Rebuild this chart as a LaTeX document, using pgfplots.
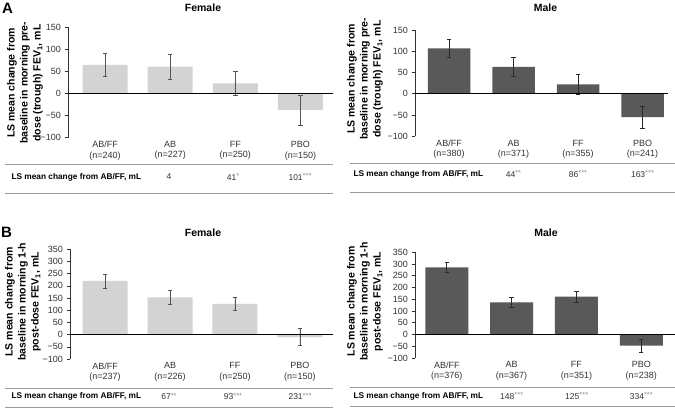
\documentclass[border=0pt]{standalone}
\usepackage{fontspec}
\setmainfont{Liberation Sans}
\usepackage{pgfplots}
\pgfplotsset{compat=1.18}
\definecolor{fbar}{HTML}{D3D3D3}
\definecolor{mbar}{HTML}{595959}
\definecolor{ferr}{HTML}{555555}
\definecolor{merr}{HTML}{2A2A2A}
\definecolor{txt}{HTML}{333333}
\definecolor{rulec}{HTML}{9A9A9A}
\definecolor{ast}{HTML}{8C8C8C}
\newcommand\fs[2]{\fontsize{#1}{#2}\selectfont}
\newcommand\st[1]{\raisebox{1.2pt}{\textcolor{ast}{\fs{7.5}{7.5}#1}}}
\newcommand\zeroline{\draw[black, line width=0.7pt] ({rel axis cs:0,0}|-{axis cs:0,0}) -- ({rel axis cs:1,0}|-{axis cs:0,0});}
\pgfplotsset{
  panel/.style={
    scale only axis,
    anchor=south west,
    clip=false,
    axis y line*=left,
    axis x line*=bottom,
    x axis line style={draw=none},
    xtick={0,1,2,3},
    xtick style={draw=none},
    ytick align=outside,
    ytick style={color=txt, line width=0.6pt},
    major tick length=3.5pt,
    y axis line style={color=txt, line width=0.6pt},
    tick label style={font=\fs{9}{10.5}, color=txt},
    xticklabel style={align=center},
  },
  fbarplot/.style={ybar, bar shift=0pt, fill=fbar, draw=none,
    error bars/.cd, y dir=both, y explicit,
    error bar style={color=ferr, line width=0.6pt},
    error mark options={rotate=90, mark size=2.2pt, color=ferr, line width=0.6pt}},
  mbarplot/.style={ybar, bar shift=0pt, fill=mbar, draw=none,
    error bars/.cd, y dir=both, y explicit,
    error bar style={color=merr, line width=0.6pt},
    error mark options={rotate=90, mark size=2.2pt, color=merr, line width=0.6pt}},
}
\begin{document}
\begin{tikzpicture}
\path[use as bounding box] (0pt,0pt) rectangle (675pt,408pt);

% ---------- Panel A, Female ----------
\begin{axis}[panel, at={(68pt,270.3pt)}, width=265pt, height=110.4pt,
  xmin=-0.57, xmax=3.5, ymin=-100, ymax=150,
  ytick={-100,-50,0,50,100,150}, yticklabels={−100,−50,0,50,100,150},
  xticklabels={AB/FF\\(n=240), AB\\(n=227), FF\\(n=250), PBO\\(n=150)}]
\addplot[bar width=45pt, fbarplot] coordinates {(0,65) +- (0,27) (1,61) +- (0,28) (2,23) +- (0,27) (3,-37) +- (0,34)};
\zeroline
\end{axis}

% ---------- Panel A, Male ----------
\begin{axis}[panel, at={(415pt,271.7pt)}, width=253pt, height=106.3pt,
  xmin=-0.527, xmax=3.395, ymin=-100, ymax=150,
  ytick={-100,-50,0,50,100,150}, yticklabels={−100,−50,0,50,100,150},
  xticklabels={AB/FF\\(n=380), AB\\(n=371), FF\\(n=355), PBO\\(n=241)}]
\addplot[bar width=42.5pt, mbarplot] coordinates {(0,107) +- (0,22) (1,63) +- (0,22) (2,22) +- (0,23) (3,-55) +- (0,26)};
\zeroline
\end{axis}

% ---------- Panel B, Female ----------
\begin{axis}[panel, at={(70pt,49pt)}, width=263pt, height=109.7pt,
  xmin=-0.54, xmax=3.51, ymin=-100, ymax=350,
  ytick={-100,-50,0,50,100,150,200,250,300,350}, yticklabels={−100,−50,0,50,100,150,200,250,300,350},
  xticklabels={AB/FF\\(n=237), AB\\(n=226), FF\\(n=250), PBO\\(n=150)}]
\addplot[bar width=45pt, fbarplot] coordinates {(0,220) +- (0,28) (1,153) +- (0,29) (2,126) +- (0,27) (3,-10) +- (0,35)};
\zeroline
\end{axis}

% ---------- Panel B, Male ----------
\begin{axis}[panel, at={(415pt,50pt)}, width=260pt, height=105.7pt,
  xmin=-0.49, xmax=3.52, ymin=-100, ymax=350,
  ytick={-100,-50,0,50,100,150,200,250,300,350}, yticklabels={−100,−50,0,50,100,150,200,250,300,350},
  xticklabels={AB/FF\\(n=376), AB\\(n=367), FF\\(n=351), PBO\\(n=238)}]
\addplot[bar width=43pt, mbarplot] coordinates {(0,286) +- (0,23) (1,137) +- (0,22) (2,161) +- (0,24) (3,-47) +- (0,27)};
\zeroline
\end{axis}

% ---------- Panel letters and titles ----------
\node[font=\bfseries\fs{15}{18}] at (7.5pt,400pt) {A};
\node[font=\bfseries\fs{15}{18}] at (6.5pt,176pt) {B};
\node[font=\bfseries\fs{10.5}{12}] at (203pt,400pt) {Female};
\node[font=\bfseries\fs{10.5}{12}] at (545.5pt,400pt) {Male};
\node[font=\bfseries\fs{10.5}{12}] at (203pt,175pt) {Female};
\node[font=\bfseries\fs{10.5}{12}] at (546pt,175pt) {Male};

% ---------- Y labels ----------
\node[rotate=90, align=center, font=\bfseries\fs{10.5}{13}] at (25pt,325pt) {LS mean change from\\baseline in morning pre-\\dose (trough) FEV\textsubscript{1}, mL};
\node[rotate=90, align=center, font=\bfseries\fs{10.5}{13}] at (365pt,329pt) {LS mean change from\\baseline in morning pre-\\dose (trough) FEV\textsubscript{1}, mL};
\node[rotate=90, align=center, font=\bfseries\fs{10.5}{13}] at (23pt,106.3pt) {LS mean change from\\baseline in morning 1-h\\post-dose FEV\textsubscript{1}, mL};
\node[rotate=90, align=center, font=\bfseries\fs{10.5}{13}] at (365pt,106.5pt) {LS mean change from\\baseline in morning 1-h\\post-dose FEV\textsubscript{1}, mL};

% ---------- Tables ----------
% A Female
\draw[rulec, line width=0.8pt] (5pt,244pt) -- (333pt,244pt);
\draw[rulec, line width=0.8pt] (5pt,214.5pt) -- (333pt,214.5pt);
\node[anchor=west, font=\bfseries\fs{8.3}{10}] at (8pt,231pt) {LS mean change from AB/FF, mL};
\node[font=\fs{8.5}{10}, color=txt] at (169pt,231pt) {4};
\node[font=\fs{8.5}{10}, color=txt] at (233pt,231pt) {41\st{*}};
\node[font=\fs{8.5}{10}, color=txt] at (300pt,231pt) {101\st{***}};
% A Male
\draw[rulec, line width=0.8pt] (350pt,245pt) -- (675pt,245pt);
\draw[rulec, line width=0.8pt] (350pt,216pt) -- (675pt,216pt);
\node[anchor=west, font=\bfseries\fs{8.3}{10}] at (350pt,234pt) {LS mean change from AB/FF, mL};
\node[font=\fs{8.5}{10}, color=txt] at (513.5pt,234pt) {44\st{**}};
\node[font=\fs{8.5}{10}, color=txt] at (578pt,234pt) {86\st{***}};
\node[font=\fs{8.5}{10}, color=txt] at (642.5pt,234pt) {163\st{***}};
% B Female
\draw[rulec, line width=0.8pt] (5pt,19.7pt) -- (333pt,19.7pt);
\draw[rulec, line width=0.8pt] (5pt,0.8pt) -- (333pt,0.8pt);
\node[anchor=west, font=\bfseries\fs{8.3}{10}] at (8pt,11.3pt) {LS mean change from AB/FF, mL};
\node[font=\fs{8.5}{10}, color=txt] at (169pt,11.3pt) {67\st{**}};
\node[font=\fs{8.5}{10}, color=txt] at (233pt,11.3pt) {93\st{***}};
\node[font=\fs{8.5}{10}, color=txt] at (300pt,11.3pt) {231\st{***}};
% B Male
\draw[rulec, line width=0.8pt] (350pt,20.3pt) -- (675pt,20.3pt);
\draw[rulec, line width=0.8pt] (350pt,1.3pt) -- (675pt,1.3pt);
\node[anchor=west, font=\bfseries\fs{8.3}{10}] at (350pt,12pt) {LS mean change from AB/FF, mL};
\node[font=\fs{8.5}{10}, color=txt] at (511.7pt,12pt) {148\st{***}};
\node[font=\fs{8.5}{10}, color=txt] at (576.7pt,12pt) {125\st{***}};
\node[font=\fs{8.5}{10}, color=txt] at (641.3pt,12pt) {334\st{***}};
\end{tikzpicture}
\end{document}
